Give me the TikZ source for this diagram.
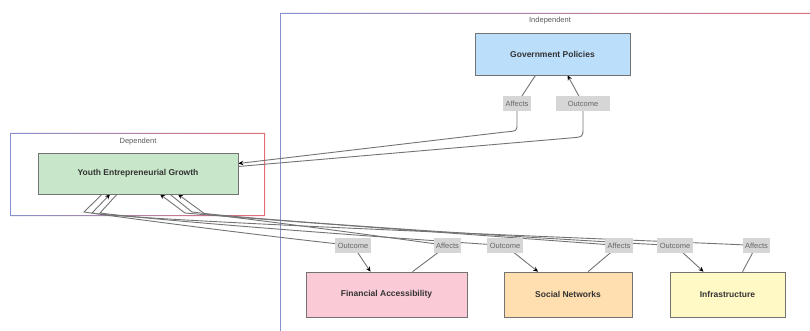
\documentclass[tikz,border=0pt]{standalone}
\usepackage{fontspec}
\setmainfont{Liberation Sans}
\usetikzlibrary{arrows.meta}

\definecolor{clblue}{RGB}{135,145,205}
\definecolor{clred}{RGB}{225,110,120}
\definecolor{youthfill}{RGB}{200,230,201}
\definecolor{govfill}{RGB}{187,222,251}
\definecolor{finfill}{RGB}{250,202,214}
\definecolor{socfill}{RGB}{255,222,175}
\definecolor{infill}{RGB}{255,249,198}
\definecolor{tagbg}{RGB}{214,214,214}

\pgfdeclarelayer{bg}
\pgfdeclarelayer{edges}
\pgfsetlayers{bg,edges,main}

\begin{document}
\begin{tikzpicture}[x=1pt,y=-1pt,
  box/.style={draw=black!55, line width=0.6pt, minimum height=44pt,
    font=\bfseries\fontsize{8.5}{10}\selectfont, text=black!80},
  tag/.style={fill=tagbg, text=black!60, font=\fontsize{7.5}{9}\selectfont,
    inner xsep=2.5pt, minimum height=15pt},
  cl/.style={text=black!65, font=\fontsize{7.5}{9}\selectfont},
  edge/.style={draw=black!55, line width=0.9pt},
  arr/.style={edge, -{Stealth[length=5pt,width=4.5pt,color=black]}}]
\useasboundingbox (0,0) rectangle (810,331);
\clip (0,0) rectangle (810,331);

% clusters
\begin{pgfonlayer}{bg}
\shade[left color=clblue, right color=clred, even odd rule]
  (10,133) rectangle (265,216) (10.9,133.9) rectangle (264.1,215.1);
\shade[left color=clblue, right color=clred, even odd rule]
  (280,13) rectangle (830,345) (280.9,13.9) rectangle (829.1,344.1);
\end{pgfonlayer}
\node[cl] (deplbl) at (138,142) {Dependent};
\node[cl] (indlbl) at (550,21) {Independent};

% nodes
\node[box, fill=youthfill, minimum width=200pt, minimum height=41pt] (youth) at (138,173.5) {Youth Entrepreneurial Growth};
\node[box, fill=govfill, minimum width=155pt, minimum height=42pt] (gov) at (552.5,54) {Government Policies};
\node[box, fill=finfill, minimum width=161pt, minimum height=45pt] (fin) at (386.5,294.5) {Financial Accessibility};
\node[box, fill=socfill, minimum width=128pt, minimum height=45pt] (soc) at (568,294.5) {Social Networks};
\node[box, fill=infill, minimum width=115pt, minimum height=45pt] (inf) at (727.5,294.5) {Infrastructure};

% edge labels
\node[tag] (gA) at (517,103.5) {Affects};
\node[tag, minimum width=54pt] (gO) at (583,103.5) {Outcome};
\node[tag] (fO) at (353,245.5) {Outcome};
\node[tag] (fA) at (447.5,245.5) {Affects};
\node[tag] (sO) at (505,245.5) {Outcome};
\node[tag] (sA) at (619,245.5) {Affects};
\node[tag] (iO) at (675,245.5) {Outcome};
\node[tag] (iA) at (756.5,245.5) {Affects};

\begin{pgfonlayer}{edges}
% government policies <-> youth
\draw[edge] ([xshift=-17pt]gov.south) -- (gA.center);
\draw[arr] (gA.center) -- (517,124) .. controls (517,131) .. (505,132) -- ([yshift=10pt]youth.east);
\draw[edge] ([yshift=7pt]youth.east) -- (570,138) .. controls (583,137) .. (583,128) -- (gO.center);
\draw[arr] (gO.center) -- ([xshift=15pt]gov.south);

% youth -> outcomes
\draw[edge] ([xshift=-36pt]youth.south) -- (84,212) .. controls (140,220) and (280,238) .. (fO.center);
\draw[edge] ([xshift=-21pt]youth.south) -- (100,213) .. controls (170,222) and (420,240) .. (sO.center);
\draw[edge] ([xshift=32pt]youth.south) -- (192,212) .. controls (270,222) and (600,242) .. (iO.center);
\draw[arr] (fO.center) -- ([xshift=-16pt]fin.north);
\draw[arr] (sO.center) -- ([xshift=-30pt]soc.north);
\draw[arr] (iO.center) -- ([xshift=-24pt]inf.north);

% affects -> youth
\draw[edge] ([xshift=26pt]fin.north) -- (fA.center);
\draw[edge] ([xshift=20pt]soc.north) -- (sA.center);
\draw[edge] ([xshift=15pt]inf.north) -- (iA.center);
\draw[arr] (iA.center) .. controls (690,242) and (150,222) .. (92,213) -- ([xshift=-28pt]youth.south);
\draw[arr] (sA.center) .. controls (560,241) and (240,218) .. (185,213) -- ([xshift=22pt]youth.south);
\draw[arr] (fA.center) .. controls (400,239) and (260,220) .. (205,214) -- ([xshift=40pt]youth.south);
\end{pgfonlayer}
\end{tikzpicture}
\end{document}
